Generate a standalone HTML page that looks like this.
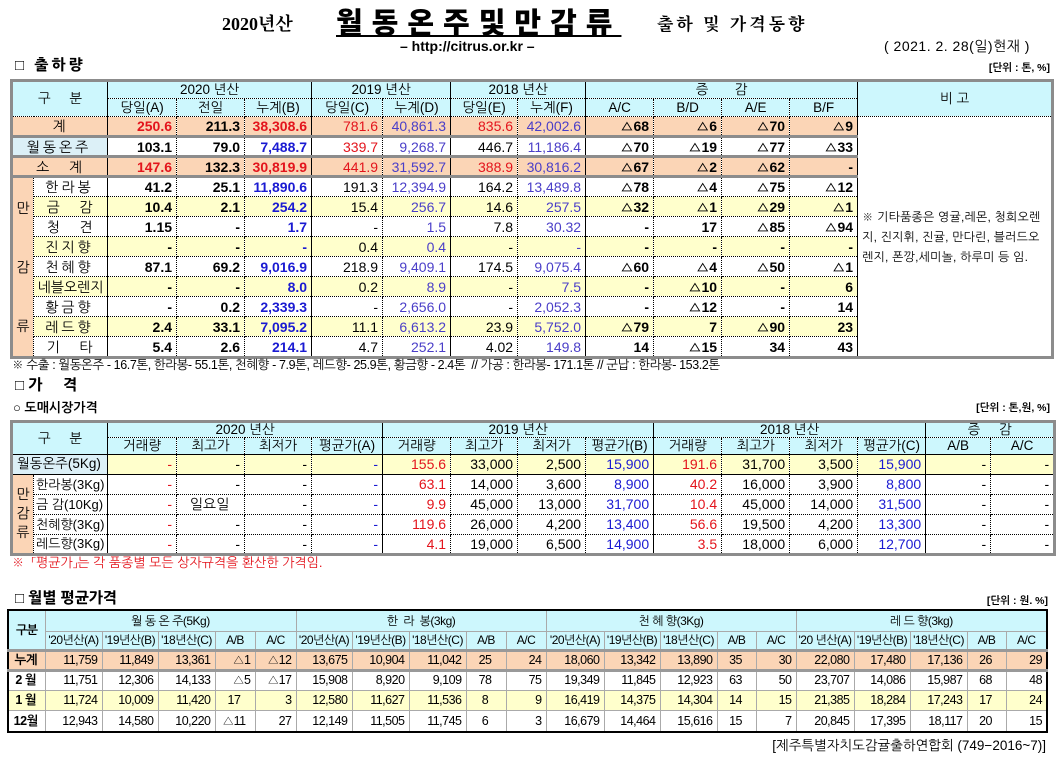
<!DOCTYPE html>
<html><head><meta charset="utf-8">
<style>
*{box-sizing:border-box;margin:0;padding:0}
body{width:1062px;height:759px;background:#fff;position:relative;overflow:hidden;font-family:"Liberation Sans","NanumGothic","Noto Sans CJK KR",sans-serif;color:#000}
.a{position:absolute;white-space:nowrap}
table{position:absolute;border-collapse:collapse;table-layout:fixed;font-size:14px}
td{border:1px dotted #000;text-align:right;padding:0 4px 0 2px;overflow:hidden;white-space:nowrap;line-height:1}
.c{text-align:center}
.l{text-align:left;padding-left:6px}
.r{color:#e3141c}.b{color:#1a1ad2}.p{color:#4a3ec8}.bd{font-weight:bold}
.pe td,.pe{background:#fbd5b6}
.ye td,.ye{background:#ffffcc}
.cy td,.cy{background:#cdf7fd}
.lb{background:#dcf0f7!important}
.sl{border-left:1px solid #000}
.tk td{border-top:3px solid #8c8c8c}
#t1,#t2{border:3px solid #8c8c8c}
.hd td{text-align:center;padding:0;font-size:13.5px}
#t3{border:2px solid #000;font-size:12.5px;letter-spacing:-0.5px}
#t3 td{border:1px solid #aaa}
#t3 td.sl{border-left:1px solid #000}
#t3 .tk td{border-top:3px solid #999}
#t3 .hd td{font-size:12px}
.lab{font-size:13px;padding:0 0 0 2px!important;text-align:left}
</style></head><body>

<div class="a" style="left:222px;top:10px;font-size:18px;font-weight:bold;font-family:'Liberation Serif','Noto Serif CJK SC',serif">2020년산</div>
<div class="a" style="left:336px;top:0px;font-size:29px;font-weight:900;letter-spacing:9px;text-decoration:underline;font-family:'Noto Sans CJK KR',sans-serif">월동온주및만감류</div>
<div class="a" style="left:657px;top:10px;font-size:17px;font-weight:bold;letter-spacing:3px;font-family:'Noto Serif CJK SC',serif">출하 및 가격동향</div>
<div class="a" style="left:400px;top:38px;font-size:14px;font-weight:bold">– http://citrus.or.kr –</div>
<div class="a" style="left:884px;top:38px;font-size:14px;letter-spacing:0.5px">( 2021. 2. 28(일)현재 )</div>
<div class="a" style="left:15px;top:57px;font-size:15px;font-weight:900;letter-spacing:3px">□ 출하량</div>
<div class="a" style="right:12px;top:62px;font-size:10.5px;font-weight:bold">[단위 : 톤, %]</div>

<table id="t1" style="left:10px;top:79px;width:1041px">
<colgroup><col style="width:22px"><col style="width:74px"><col style="width:69px"><col style="width:68px"><col style="width:67px"><col style="width:71px"><col style="width:68px"><col style="width:67px"><col style="width:68px"><col style="width:68px"><col style="width:68px"><col style="width:68px"><col style="width:68px"><col style="width:195px"></colgroup>
<tr class="hd cy" style="height:18px"><td colspan="2" rowspan="2">구 &nbsp; &nbsp; 분</td><td colspan="3" class="sl">2020 년산</td><td colspan="2" class="sl">2019 년산</td><td colspan="2" class="sl">2018 년산</td><td colspan="4" class="sl">증 &nbsp; &nbsp; &nbsp; 감</td><td rowspan="2" class="sl">비 고</td></tr>
<tr class="hd cy" style="height:18px"><td class="sl">당일(A)</td><td>전일</td><td>누계(B)</td><td class="sl">당일(C)</td><td>누계(D)</td><td class="sl">당일(E)</td><td>누계(F)</td><td class="sl">A/C</td><td>B/D</td><td>A/E</td><td>B/F</td></tr>
<tr class="pe" style="height:20px"><td colspan="2" class="c">계</td><td class="sl r bd">250.6</td><td class="bd">211.3</td><td class="r bd">38,308.6</td><td class="sl r">781.6</td><td class="p">40,861.3</td><td class="sl r">835.6</td><td class="p">42,002.6</td><td class="sl bd">△68</td><td class="bd">△6</td><td class="bd">△70</td><td class="bd">△9</td>
<td rowspan="12" class="sl" style="background:#fff;text-align:left;font-size:12px;line-height:20px;padding:0 2px 0 4px;letter-spacing:0.2px">※ 기타품종은 영귤,레몬, 청희오렌<br>지, 진지휘, 진귤, 만다린, 블러드오<br>렌지, 폰깡,세미놀, 하루미 등 임.</td></tr>
<tr class="tk" style="height:20px"><td colspan="2" class="c lb" style="letter-spacing:3px">월동온주</td><td class="sl bd">103.1</td><td class="bd">79.0</td><td class="b bd">7,488.7</td><td class="sl r">339.7</td><td class="p">9,268.7</td><td class="sl">446.7</td><td class="p">11,186.4</td><td class="sl bd">△70</td><td class="bd">△19</td><td class="bd">△77</td><td class="bd">△33</td></tr>
<tr class="pe tk" style="height:20px"><td colspan="2" class="c">소 &nbsp; &nbsp; 계</td><td class="sl r bd">147.6</td><td class="bd">132.3</td><td class="r bd">30,819.9</td><td class="sl r">441.9</td><td class="p">31,592.7</td><td class="sl r">388.9</td><td class="p">30,816.2</td><td class="sl bd">△67</td><td class="bd">△2</td><td class="bd">△62</td><td class="bd">-</td></tr>
<tr class="tk" style="height:20px"><td rowspan="9" class="pe c" style="padding:0;line-height:59px;white-space:normal">만<br>감<br>류</td><td class="c" style="letter-spacing:3px">한라봉</td><td class="sl bd">41.2</td><td class="bd">25.1</td><td class="b bd">11,890.6</td><td class="sl">191.3</td><td class="p">12,394.9</td><td class="sl">164.2</td><td class="p">13,489.8</td><td class="sl bd">△78</td><td class="bd">△4</td><td class="bd">△75</td><td class="bd">△12</td></tr>
<tr class="ye" style="height:20px"><td class="c">금 &nbsp; &nbsp; 감</td><td class="sl bd">10.4</td><td class="bd">2.1</td><td class="b bd">254.2</td><td class="sl">15.4</td><td class="p">256.7</td><td class="sl">14.6</td><td class="p">257.5</td><td class="sl bd">△32</td><td class="bd">△1</td><td class="bd">△29</td><td class="bd">△1</td></tr>
<tr style="height:20px"><td class="c">청 &nbsp; &nbsp; 견</td><td class="sl bd">1.15</td><td class="bd">-</td><td class="b bd">1.7</td><td class="sl">-</td><td class="p">1.5</td><td class="sl">7.8</td><td class="p">30.32</td><td class="sl bd">-</td><td class="bd">17</td><td class="bd">△85</td><td class="bd">△94</td></tr>
<tr class="ye" style="height:20px"><td class="c" style="letter-spacing:3px">진지향</td><td class="sl bd">-</td><td class="bd">-</td><td class="b bd">-</td><td class="sl">0.4</td><td class="p">0.4</td><td class="sl">-</td><td class="p">-</td><td class="sl bd">-</td><td class="bd">-</td><td class="bd">-</td><td class="bd">-</td></tr>
<tr style="height:20px"><td class="c" style="letter-spacing:3px">천혜향</td><td class="sl bd">87.1</td><td class="bd">69.2</td><td class="b bd">9,016.9</td><td class="sl">218.9</td><td class="p">9,409.1</td><td class="sl">174.5</td><td class="p">9,075.4</td><td class="sl bd">△60</td><td class="bd">△4</td><td class="bd">△50</td><td class="bd">△1</td></tr>
<tr class="ye" style="height:20px"><td class="c" style="padding:0">네블오렌지</td><td class="sl bd">-</td><td class="bd">-</td><td class="b bd">8.0</td><td class="sl">0.2</td><td class="p">8.9</td><td class="sl">-</td><td class="p">7.5</td><td class="sl bd">-</td><td class="bd">△10</td><td class="bd">-</td><td class="bd">6</td></tr>
<tr style="height:20px"><td class="c" style="letter-spacing:3px">황금향</td><td class="sl bd">-</td><td class="bd">0.2</td><td class="b bd">2,339.3</td><td class="sl">-</td><td class="p">2,656.0</td><td class="sl">-</td><td class="p">2,052.3</td><td class="sl bd">-</td><td class="bd">△12</td><td class="bd">-</td><td class="bd">14</td></tr>
<tr class="ye" style="height:20px"><td class="c" style="letter-spacing:3px">레드향</td><td class="sl bd">2.4</td><td class="bd">33.1</td><td class="b bd">7,095.2</td><td class="sl">11.1</td><td class="p">6,613.2</td><td class="sl">23.9</td><td class="p">5,752.0</td><td class="sl bd">△79</td><td class="bd">7</td><td class="bd">△90</td><td class="bd">23</td></tr>
<tr style="height:21px"><td class="c">기 &nbsp; &nbsp; 타</td><td class="sl bd">5.4</td><td class="bd">2.6</td><td class="b bd">214.1</td><td class="sl">4.7</td><td class="p">252.1</td><td class="sl">4.02</td><td class="p">149.8</td><td class="sl bd">14</td><td class="bd">△15</td><td class="bd">34</td><td class="bd">43</td></tr>
</table>

<div class="a" style="left:12px;top:357px;font-size:12.5px;letter-spacing:-0.4px">※ 수출 : 월동온주 - 16.7톤, 한라봉- 55.1톤, 천혜향 - 7.9톤, 레드향- 25.9톤, 황금향 - 2.4톤 &nbsp;// 가공 : 한라봉- 171.1톤 // 군납 : 한라봉- 153.2톤</div>
<div class="a" style="left:15px;top:377px;font-size:15px;font-weight:900">□ 가 &nbsp; &nbsp; 격</div>
<div class="a" style="left:13px;top:400px;font-size:13px;font-weight:bold">○ 도매시장가격</div>
<div class="a" style="right:12px;top:402px;font-size:10.5px;font-weight:bold">[단위 : 톤,원, %]</div>

<table id="t2" style="left:10px;top:420px;width:1040px">
<colgroup><col style="width:22px"><col style="width:74px"><col style="width:69px"><col style="width:68px"><col style="width:67px"><col style="width:71px"><col style="width:68px"><col style="width:67px"><col style="width:68px"><col style="width:68px"><col style="width:68px"><col style="width:68px"><col style="width:68px"><col style="width:68px"><col style="width:65px"><col style="width:64px"></colgroup>
<tr class="hd cy" style="height:15px"><td colspan="2" rowspan="2">구 &nbsp; &nbsp; 분</td><td colspan="4" class="sl">2020 년산</td><td colspan="4" class="sl">2019 년산</td><td colspan="4" class="sl">2018 년산</td><td colspan="2" class="sl">증 &nbsp; &nbsp; 감</td></tr>
<tr class="hd cy" style="height:17px"><td class="sl">거래량</td><td>최고가</td><td>최저가</td><td>평균가(A)</td><td class="sl">거래량</td><td>최고가</td><td>최저가</td><td>평균가(B)</td><td class="sl">거래량</td><td>최고가</td><td>최저가</td><td>평균가(C)</td><td class="sl">A/B</td><td>A/C</td></tr>
<tr class="ye" style="height:20px"><td colspan="2" class="c lb" style="border-top:1px solid #000;font-size:13.5px">월동온주(5Kg)</td><td class="sl r" style="border-top:1px solid #000">-</td><td style="border-top:1px solid #000">-</td><td style="border-top:1px solid #000">-</td><td class="b" style="border-top:1px solid #000">-</td><td class="sl r" style="border-top:1px solid #000">155.6</td><td style="border-top:1px solid #000">33,000</td><td style="border-top:1px solid #000">2,500</td><td class="b" style="border-top:1px solid #000">15,900</td><td class="sl r" style="border-top:1px solid #000">191.6</td><td style="border-top:1px solid #000">31,700</td><td style="border-top:1px solid #000">3,500</td><td class="b" style="border-top:1px solid #000">15,900</td><td class="sl" style="border-top:1px solid #000">-</td><td style="border-top:1px solid #000">-</td></tr>
<tr style="height:20px"><td rowspan="4" class="pe c" style="padding:0;line-height:19px;white-space:normal;border-top:1px solid #000">만<br>감<br>류</td><td class="lab" style="border-top:1px solid #000">한라봉(3Kg)</td><td class="sl r" style="border-top:1px solid #000">-</td><td style="border-top:1px solid #000">-</td><td style="border-top:1px solid #000">-</td><td class="b" style="border-top:1px solid #000">-</td><td class="sl r" style="border-top:1px solid #000">63.1</td><td style="border-top:1px solid #000">14,000</td><td style="border-top:1px solid #000">3,600</td><td class="b" style="border-top:1px solid #000">8,900</td><td class="sl r" style="border-top:1px solid #000">40.2</td><td style="border-top:1px solid #000">16,000</td><td style="border-top:1px solid #000">3,900</td><td class="b" style="border-top:1px solid #000">8,800</td><td class="sl" style="border-top:1px solid #000">-</td><td style="border-top:1px solid #000">-</td></tr>
<tr style="height:20px"><td class="lab">금 감(10Kg)</td><td class="sl r">-</td><td class="c">일요일</td><td>-</td><td class="b">-</td><td class="sl r">9.9</td><td>45,000</td><td>13,000</td><td class="b">31,700</td><td class="sl r">10.4</td><td>45,000</td><td>14,000</td><td class="b">31,500</td><td class="sl">-</td><td>-</td></tr>
<tr style="height:20px"><td class="lab">천혜향(3Kg)</td><td class="sl r">-</td><td>-</td><td>-</td><td class="b">-</td><td class="sl r">119.6</td><td>26,000</td><td>4,200</td><td class="b">13,400</td><td class="sl r">56.6</td><td>19,500</td><td>4,200</td><td class="b">13,300</td><td class="sl">-</td><td>-</td></tr>
<tr style="height:20px"><td class="lab">레드향(3Kg)</td><td class="sl r">-</td><td>-</td><td>-</td><td class="b">-</td><td class="sl r">4.1</td><td>19,000</td><td>6,500</td><td class="b">14,900</td><td class="sl r">3.5</td><td>18,000</td><td>6,000</td><td class="b">12,700</td><td class="sl">-</td><td>-</td></tr>
</table>

<div class="a r" style="left:12px;top:555px;font-size:13px">※ &nbsp;「평균가」는 각 품종별 모든 상자규격을 환산한 가격임.</div>
<div class="a" style="left:15px;top:590px;font-size:15px;font-weight:900">□ 월별 평균가격</div>
<div class="a" style="right:14px;top:595px;font-size:10.5px;font-weight:bold">[단위 : 원. %]</div>

<table id="t3" style="left:7px;top:609px;width:1041px">
<colgroup><col style="width:37px"><col style="width:57px"><col style="width:56px"><col style="width:57px"><col style="width:40px"><col style="width:41px"><col style="width:56px"><col style="width:57px"><col style="width:57px"><col style="width:40px"><col style="width:40px"><col style="width:58px"><col style="width:56px"><col style="width:57px"><col style="width:39px"><col style="width:40px"><col style="width:58px"><col style="width:56px"><col style="width:57px"><col style="width:39px"><col style="width:41px"></colgroup>
<tr class="hd cy" style="height:21px"><td rowspan="2" class="bd">구분</td><td colspan="5" class="sl">월 동 온 주(5Kg)</td><td colspan="5" class="sl">한 &nbsp;라 &nbsp;봉(3kg)</td><td colspan="5" class="sl">천 혜 향(3Kg)</td><td colspan="5" class="sl">레 드 향(3kg)</td></tr>
<tr class="hd cy" style="height:19px"><td class="sl">'20년산(A)</td><td>'19년산(B)</td><td>'18년산(C)</td><td>A/B</td><td>A/C</td><td class="sl">'20년산(A)</td><td>'19년산(B)</td><td>'18년산(C)</td><td>A/B</td><td>A/C</td><td class="sl">'20년산(A)</td><td>'19년산(B)</td><td>'18년산(C)</td><td>A/B</td><td>A/C</td><td class="sl">'20 년산(A)</td><td>'19년산(B)</td><td>'18년산(C)</td><td>A/B</td><td>A/C</td></tr>
<tr class="pe tk" style="height:20px"><td class="c bd">누계</td><td class="sl">11,759</td><td>11,849</td><td>13,361</td><td>△1</td><td>△12</td><td class="sl">13,675</td><td>10,904</td><td>11,042</td><td class="c">25</td><td>24</td><td class="sl">18,060</td><td>13,342</td><td>13,890</td><td class="c">35</td><td>30</td><td class="sl">22,080</td><td>17,480</td><td>17,136</td><td class="c">26</td><td>29</td></tr>
<tr class="tk" style="height:20px"><td class="c bd">2 월</td><td class="sl">11,751</td><td>12,306</td><td>14,133</td><td>△5</td><td>△17</td><td class="sl">15,908</td><td>8,920</td><td>9,109</td><td class="c">78</td><td>75</td><td class="sl">19,349</td><td>11,845</td><td>12,923</td><td class="c">63</td><td>50</td><td class="sl">23,707</td><td>14,086</td><td>15,987</td><td class="c">68</td><td>48</td></tr>
<tr class="ye" style="height:20px"><td class="c bd">1 월</td><td class="sl">11,724</td><td>10,009</td><td>11,420</td><td class="c">17</td><td>3</td><td class="sl">12,580</td><td>11,627</td><td>11,536</td><td class="c">8</td><td>9</td><td class="sl">16,419</td><td>14,375</td><td>14,304</td><td class="c">14</td><td>15</td><td class="sl">21,385</td><td>18,284</td><td>17,243</td><td class="c">17</td><td>24</td></tr>
<tr style="height:22px"><td class="c bd">12월</td><td class="sl">12,943</td><td>14,580</td><td>10,220</td><td class="c">△11</td><td>27</td><td class="sl">12,149</td><td>11,505</td><td>11,745</td><td class="c">6</td><td>3</td><td class="sl">16,679</td><td>14,464</td><td>15,616</td><td class="c">15</td><td>7</td><td class="sl">20,845</td><td>17,395</td><td>18,117</td><td class="c">20</td><td>15</td></tr>
</table>

<div class="a" style="right:16px;top:737px;font-size:13.5px">[제주특별자치도감귤출하연합회 (749−2016~7)]</div>
</body></html>
